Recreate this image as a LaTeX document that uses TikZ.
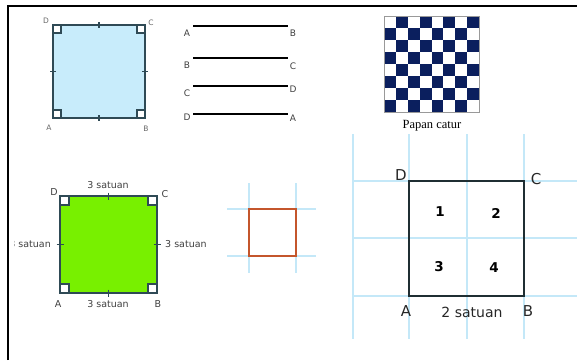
\documentclass[tikz,border=0pt]{standalone}
\usepackage{fontspec}
\setmainfont{DejaVu Sans}
\newfontfamily\serifpapan{Liberation Serif}
\definecolor{skyfill}{HTML}{C8ECFB}
\definecolor{edgeteal}{HTML}{2F4A55}
\definecolor{limefill}{HTML}{78F000}
\definecolor{navyc}{HTML}{0B1F5E}
\definecolor{gridblue}{HTML}{C4E8F8}
\definecolor{rust}{HTML}{C4562C}
\definecolor{darkedge}{HTML}{1F2E33}
\begin{document}
\begin{tikzpicture}[x=1pt,y=-1pt,
  edge/.style={draw=edgeteal,line width=1.6pt},
  rmark/.style={draw=edgeteal,line width=1.2pt,fill=white},
  tick/.style={draw=edgeteal,line width=1.7pt},
  seg/.style={draw=black,line width=2.8pt},
  gline/.style={draw=gridblue,line width=2pt},
  smalllbl/.style={text=black!60,font=\fontsize{7.5}{8}\selectfont,inner sep=0pt},
  seglbl/.style={text=black!75,font=\fontsize{9}{10}\selectfont,inner sep=0pt},
  greenlbl/.style={text=black!75,font=\fontsize{9.5}{10}\selectfont,inner sep=0pt},
  biglbl/.style={text=black!85,font=\fontsize{15}{16}\selectfont,inner sep=0pt},
  numlbl/.style={text=black,font=\fontsize{13.5}{15}\selectfont\bfseries,inner sep=0pt}]
\useasboundingbox (0,0) rectangle (577,360);
% frame
\draw[line width=1.8pt] (8,360) -- (8,6) -- (577,6);

% ---- blue square
\fill[skyfill] (53,25) rectangle (145,118);
\draw[rmark] (53,118) rectangle (61,110);
\draw[rmark] (145,118) rectangle (137,110);
\draw[rmark] (53,25) rectangle (61,33);
\draw[rmark] (145,25) rectangle (137,33);
\draw[edge] (53,25) rectangle (145,118);
\draw[tick] (99,22) -- (99,28);
\draw[tick] (99,115) -- (99,121);
\draw[tick] (50,71.5) -- (56,71.5);
\draw[tick] (142,71.5) -- (148,71.5);
\node[smalllbl] (bD) at (46,21) {D};
\node[smalllbl] (bC) at (151,23) {C};
\node[smalllbl] (bA) at (49,128) {A};
\node[smalllbl] (bB) at (146,129) {B};

% ---- segments
\node[seglbl] (s1a) at (187,33) {A};
\node[seglbl] (s1b) at (293,33) {B};
\node[seglbl] (s2a) at (187,65) {B};
\node[seglbl] (s2b) at (293,66) {C};
\node[seglbl] (s3a) at (187,93) {C};
\node[seglbl] (s3b) at (293,89) {D};
\node[seglbl] (s4a) at (187,117) {D};
\node[seglbl] (s4b) at (293,118) {A};
\draw[seg] (193,26) -- (288,26);
\draw[seg] (193,58) -- (288,58);
\draw[seg] (193,86) -- (288,86);
\draw[seg] (193,114) -- (288,114);

% ---- chessboard
\foreach \i in {0,...,7}{
  \foreach \j in {0,...,7}{
    \pgfmathtruncatemacro\cellodd{mod(\i+\j,2)}
    \ifnum\cellodd=1
      \fill[navyc] ({384+\i*11.875},{16+\j*12}) rectangle ++(11.875,12);
    \fi
  }
}
\draw[black!40,line width=0.6pt] (384,16) rectangle (479,112);
\node[inner sep=0pt,font=\serifpapan\fontsize{12.5}{13}\selectfont] (papan) at (432,126) {Papan catur};

% ---- green square
\fill[limefill] (60,196) rectangle (157,293);
\draw[rmark] (60,293) rectangle (69,284);
\draw[rmark] (157,293) rectangle (148,284);
\draw[rmark] (60,196) rectangle (69,205);
\draw[rmark] (157,196) rectangle (148,205);
\draw[edge] (60,196) rectangle (157,293);
\draw[tick] (108.5,192.5) -- (108.5,199.5);
\draw[tick] (108.5,289.5) -- (108.5,296.5);
\draw[tick] (56.5,244.5) -- (63.5,244.5);
\draw[tick] (153.5,244.5) -- (160.5,244.5);
\node[greenlbl] (gtop) at (108,185) {3 satuan};
\node[greenlbl] (gbot) at (108,304) {3 satuan};
\node[greenlbl] (gD) at (54,192) {D};
\node[greenlbl] (gC) at (165,194) {C};
\node[greenlbl] (gA) at (58,304) {A};
\node[greenlbl] (gB) at (158,304) {B};
\begin{scope}
  \clip (14,230) rectangle (60,260);
  \node[greenlbl,anchor=east] (gleft) at (51,244) {3 satuan};
\end{scope}
\begin{scope}
  \clip (160,230) rectangle (206,260);
  \node[greenlbl,anchor=west] (gright) at (165,244) {3 satuan};
\end{scope}

% ---- small orange square on grid
\draw[gline] (249,183) -- (249,273);
\draw[gline] (296,183) -- (296,273);
\draw[gline] (227,209) -- (316,209);
\draw[gline] (227,256) -- (316,256);
\draw[rust,line width=1.8pt] (249,209) rectangle (296,256);

% ---- big grid square
\foreach \gx in {353,409,467,524}{
  \draw[gline] (\gx,134) -- (\gx,339);
}
\foreach \gy in {181,238,296}{
  \draw[gline] (352,\gy) -- (577,\gy);
}
\draw[darkedge,line width=2pt] (409,181) rectangle (524,296);
\node[biglbl] (qD) at (401,175) {D};
\node[biglbl] (qC) at (536,179) {C};
\node[biglbl] (qA) at (406,311) {A};
\node[biglbl] (qB) at (528,311) {B};
\node[text=black!85,font=\fontsize{14}{14}\selectfont,inner sep=0pt] (qs) at (472,312) {2 satuan};
\node[numlbl] (n1) at (440,212) {1};
\node[numlbl] (n2) at (496,213) {2};
\node[numlbl] (n3) at (439,267) {3};
\node[numlbl] (n4) at (494,268) {4};
\end{tikzpicture}
\end{document}
